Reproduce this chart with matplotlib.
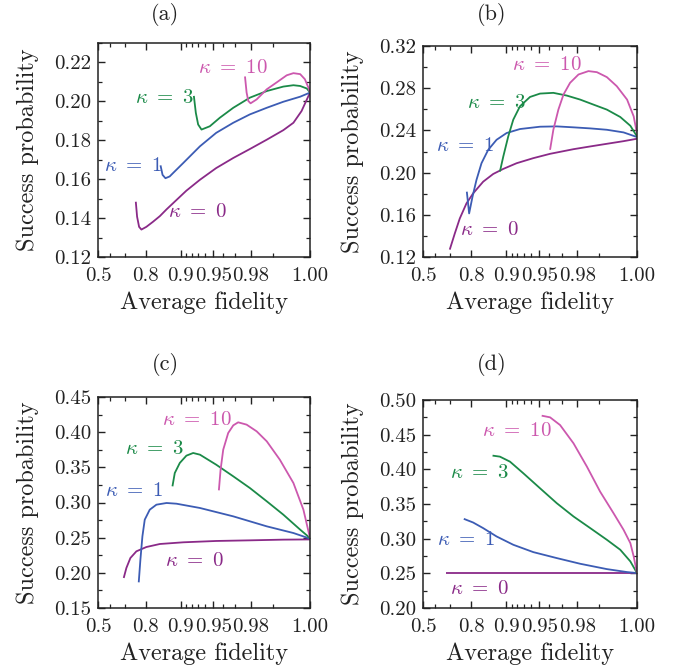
import numpy as np
import matplotlib
matplotlib.use("Agg")
import matplotlib.pyplot as plt
from matplotlib.ticker import FixedLocator, FixedFormatter, MultipleLocator, FormatStrFormatter

plt.rcParams['font.family'] = 'serif'
plt.rcParams['font.serif'] = ['cmr10', 'DejaVu Serif']
plt.rcParams['mathtext.fontset'] = 'cm'
plt.rcParams['axes.unicode_minus'] = False
plt.rcParams['axes.formatter.use_mathtext'] = True

# ---------------- data ----------------
kappas = ["0", "1", "3", "10"]
panel_titles = ["(a)", "(b)", "(c)", "(d)"]
x_ticks = [0.5, 0.8, 0.9, 0.95, 0.98, 1.0]
x_tick_labels = ["0.5", "0.8", "0.9", "0.95", "0.98", "1.00"]
x_minor = [0.6, 0.7, 0.91, 0.92, 0.93, 0.94, 0.96, 0.97, 0.99]

# panel (a)
a_k0_F = [0.757, 0.763, 0.772, 0.782, 0.802, 0.826, 0.848, 0.867, 0.891, 0.911, 0.933, 0.953, 0.9685, 0.9795, 0.9877, 0.9936, 0.9964, 0.9983, 1.0]
a_k0_P = [0.1484, 0.1407, 0.1355, 0.1341, 0.1355, 0.1381, 0.1410, 0.1445, 0.1493, 0.1541, 0.1597, 0.1657, 0.1709, 0.1755, 0.1803, 0.1852, 0.1890, 0.1950, 0.2045]
a_k1_F = [0.850, 0.856, 0.864, 0.875, 0.883, 0.905, 0.933, 0.953, 0.9685, 0.9795, 0.9877, 0.9936, 0.9980, 1.0]
a_k1_P = [0.1671, 0.1622, 0.1605, 0.1614, 0.1631, 0.1683, 0.1769, 0.1838, 0.1890, 0.1933, 0.1967, 0.1998, 0.2024, 0.2045]
a_k3_F = [0.9238, 0.9269, 0.9304, 0.9352, 0.9459, 0.9568, 0.9685, 0.9795, 0.9877, 0.9936, 0.9964, 0.9980, 0.9994, 1.0]
a_k3_P = [0.2028, 0.1941, 0.1881, 0.1855, 0.1872, 0.1916, 0.1967, 0.2019, 0.2053, 0.2076, 0.2083, 0.2079, 0.2066, 0.2045]
a_k10_F = [0.9766, 0.9776, 0.9786, 0.9799, 0.9831, 0.9877, 0.9914, 0.9946, 0.9964, 0.9980, 0.9990, 0.9997, 1.0]
a_k10_P = [0.2128, 0.2045, 0.2002, 0.1990, 0.2010, 0.2062, 0.2097, 0.2134, 0.2145, 0.2140, 0.2114, 0.2071, 0.2045]

# panel (b)
b_k0_F = [0.698, 0.7255, 0.7505, 0.7805, 0.807, 0.8412, 0.8696, 0.8933, 0.9187, 0.9428, 0.9606, 0.9779, 0.9864, 0.9926, 0.9972, 1.0]
b_k0_P = [0.1270, 0.1422, 0.1565, 0.1708, 0.1803, 0.1914, 0.1987, 0.2035, 0.2089, 0.2137, 0.2178, 0.2222, 0.2248, 0.2273, 0.2298, 0.2321]
b_k1_F = [0.782, 0.7915, 0.8046, 0.819, 0.8359, 0.8561, 0.878, 0.9002, 0.9242, 0.9506, 0.9663, 0.9779, 0.9864, 0.9926, 0.9972, 1.0]
b_k1_P = [0.1819, 0.1613, 0.1771, 0.1930, 0.2089, 0.2216, 0.2311, 0.2375, 0.2413, 0.2435, 0.2438, 0.2429, 0.2419, 0.2406, 0.2381, 0.2337]
b_k3_F = [0.8859, 0.8933, 0.9035, 0.9129, 0.9242, 0.9386, 0.9506, 0.9635, 0.9737, 0.9816, 0.9878, 0.9926, 0.9964, 0.9987, 1.0]
b_k3_P = [0.2010, 0.2152, 0.2343, 0.2502, 0.2629, 0.2717, 0.2749, 0.2756, 0.2730, 0.2692, 0.2644, 0.2597, 0.2527, 0.2444, 0.2343]
b_k10_F = [0.9606, 0.9635, 0.9676, 0.9714, 0.9758, 0.9807, 0.9856, 0.9891, 0.9926, 0.9955, 0.9980, 0.99937, 1.0]
b_k10_P = [0.2216, 0.2406, 0.2597, 0.2740, 0.2851, 0.2930, 0.2962, 0.2952, 0.2905, 0.2819, 0.2692, 0.2533, 0.2370]

# panel (c)
c_k0_F = [0.6935, 0.7087, 0.7303, 0.7598, 0.802, 0.848, 0.905, 0.953, 0.9795, 0.9936, 1.0]
c_k0_P = [0.1927, 0.2069, 0.2211, 0.2306, 0.2367, 0.2410, 0.2434, 0.2453, 0.2462, 0.2472, 0.2475]
c_k1_F = [0.7704, 0.7777, 0.7862, 0.7957, 0.8147, 0.8374, 0.867, 0.891, 0.933, 0.9685, 0.9877, 0.9964, 1.0]
c_k1_P = [0.1865, 0.2187, 0.2519, 0.2756, 0.2898, 0.2969, 0.2993, 0.2983, 0.2922, 0.2803, 0.2661, 0.2566, 0.2486]
c_k3_F = [0.8818, 0.8872, 0.8981, 0.911, 0.9227, 0.933, 0.953, 0.9685, 0.9795, 0.9877, 0.9936, 0.9980, 1.0]
c_k3_P = [0.3230, 0.3419, 0.3562, 0.3666, 0.3704, 0.3680, 0.3538, 0.3372, 0.3206, 0.3017, 0.2827, 0.2614, 0.2495]
c_k10_F = [0.9558, 0.9575, 0.9600, 0.9644, 0.9685, 0.9721, 0.9776, 0.9831, 0.9877, 0.9925, 0.9964, 0.9987, 1.0]
c_k10_P = [0.3173, 0.3467, 0.3751, 0.3988, 0.4097, 0.4140, 0.4107, 0.4012, 0.3870, 0.3609, 0.3277, 0.2898, 0.2495]

# panel (d)
d_k0_F = [0.6742, 0.8, 0.9, 0.95, 0.98, 1.0]
d_k0_P = [0.25, 0.25, 0.25, 0.25, 0.25, 0.25]
d_k1_F = [0.769, 0.807, 0.8412, 0.878, 0.9129, 0.9428, 0.9663, 0.9816, 0.9926, 0.9980, 1.0]
d_k1_P = [0.3286, 0.3233, 0.3152, 0.3032, 0.2912, 0.2806, 0.2720, 0.2638, 0.2561, 0.2518, 0.2504]
d_k3_F = [0.8679, 0.8859, 0.9068, 0.9293, 0.9506, 0.9663, 0.9779, 0.9864, 0.9926, 0.9964, 0.9987, 1.0]
d_k3_P = [0.4198, 0.4183, 0.4111, 0.3943, 0.3727, 0.3512, 0.3320, 0.3152, 0.2984, 0.2840, 0.2672, 0.2504]
d_k10_F = [0.9524, 0.9606, 0.9689, 0.9779, 0.9849, 0.9903, 0.9946, 0.9972, 0.9987, 0.99937, 1.0]
d_k10_P = [0.4774, 0.4750, 0.4639, 0.4375, 0.4039, 0.3679, 0.3368, 0.3128, 0.2936, 0.2744, 0.2504]

y_limits = [(0.12, 0.23), (0.12, 0.32), (0.15, 0.45), (0.20, 0.50)]
y_major = [0.02, 0.04, 0.05, 0.05]
y_minor = [0.01, 0.02, 0.025, 0.025]

series = [
    [(a_k0_F, a_k0_P), (a_k1_F, a_k1_P), (a_k3_F, a_k3_P), (a_k10_F, a_k10_P)],
    [(b_k0_F, b_k0_P), (b_k1_F, b_k1_P), (b_k3_F, b_k3_P), (b_k10_F, b_k10_P)],
    [(c_k0_F, c_k0_P), (c_k1_F, c_k1_P), (c_k3_F, c_k3_P), (c_k10_F, c_k10_P)],
    [(d_k0_F, d_k0_P), (d_k1_F, d_k1_P), (d_k3_F, d_k3_P), (d_k10_F, d_k10_P)],
]

# ---------------- style / layout ----------------
colors = ['#8a2a88', '#3c5cb4', '#1b8a48', '#cc58ae']
label_pos = [
    [(0.472, 0.208), (0.165, 0.427), (0.315, 0.742), (0.638, 0.883)],
    [(0.3125, 0.127), (0.195, 0.527), (0.344, 0.731), (0.578, 0.910)],
    [(0.457, 0.224), (0.173, 0.556), (0.268, 0.754), (0.465, 0.893)],
    [(0.266, 0.091), (0.203, 0.328), (0.266, 0.648), (0.4375, 0.853)],
]
W, H = 682, 672
axes_px = [(98, 43, 212, 214), (423, 46, 214, 211), (98, 397, 212, 211), (423, 400, 214, 208)]
title_px = [(165, 14), (492, 14), (165, 364), (492, 364)]


def fwd(F):
    F = np.asarray(F, dtype=float)
    return -np.log(np.clip(1.01 - F, 1e-9, None))


def inv(x):
    return 1.01 - np.exp(-np.asarray(x, dtype=float))


fig = plt.figure(figsize=(W / 100, H / 100), dpi=100)

for i in range(4):
    l, t, w, h = axes_px[i]
    ax = fig.add_axes([l / W, 1 - (t + h) / H, w / W, h / H])
    ax.set_xscale('function', functions=(fwd, inv))
    for k in range(4):
        F, P = series[i][k]
        ax.plot(F, P, color=colors[k], lw=1.3, solid_capstyle='butt')
        ax.text(label_pos[i][k][0], label_pos[i][k][1], r'$\kappa\ =\ %s$' % kappas[k],
                transform=ax.transAxes, ha='center', va='center', fontsize=15, color=colors[k])
    ax.set_xlim(0.5, 1.0)
    ax.set_ylim(*y_limits[i])
    ax.xaxis.set_major_locator(FixedLocator(x_ticks))
    ax.xaxis.set_major_formatter(FixedFormatter(x_tick_labels))
    ax.xaxis.set_minor_locator(FixedLocator(x_minor))
    ax.yaxis.set_major_locator(MultipleLocator(y_major[i]))
    ax.yaxis.set_minor_locator(MultipleLocator(y_minor[i]))
    ax.yaxis.set_major_formatter(FormatStrFormatter('%.2f'))
    ax.tick_params(which='both', direction='in', top=True, right=True, labelsize=15, colors='#222222')
    ax.tick_params(which='major', length=5, width=1.0)
    ax.tick_params(which='minor', length=3, width=0.9)
    ax.tick_params(axis='x', which='major', pad=7)
    ax.tick_params(axis='y', which='major', pad=5)
    for s in ax.spines.values():
        s.set_linewidth(1.1)
        s.set_color('#222222')
    ax.set_xlabel('Average fidelity', fontsize=17.5, color='#222222', labelpad=5)
    ax.set_ylabel('Success probability', fontsize=17.5, color='#222222', labelpad=11)
    fig.text(title_px[i][0] / W, 1 - title_px[i][1] / H, panel_titles[i], ha='center', va='center',
             fontsize=16, color='#222222')

fig.savefig('out.png', dpi=100)
